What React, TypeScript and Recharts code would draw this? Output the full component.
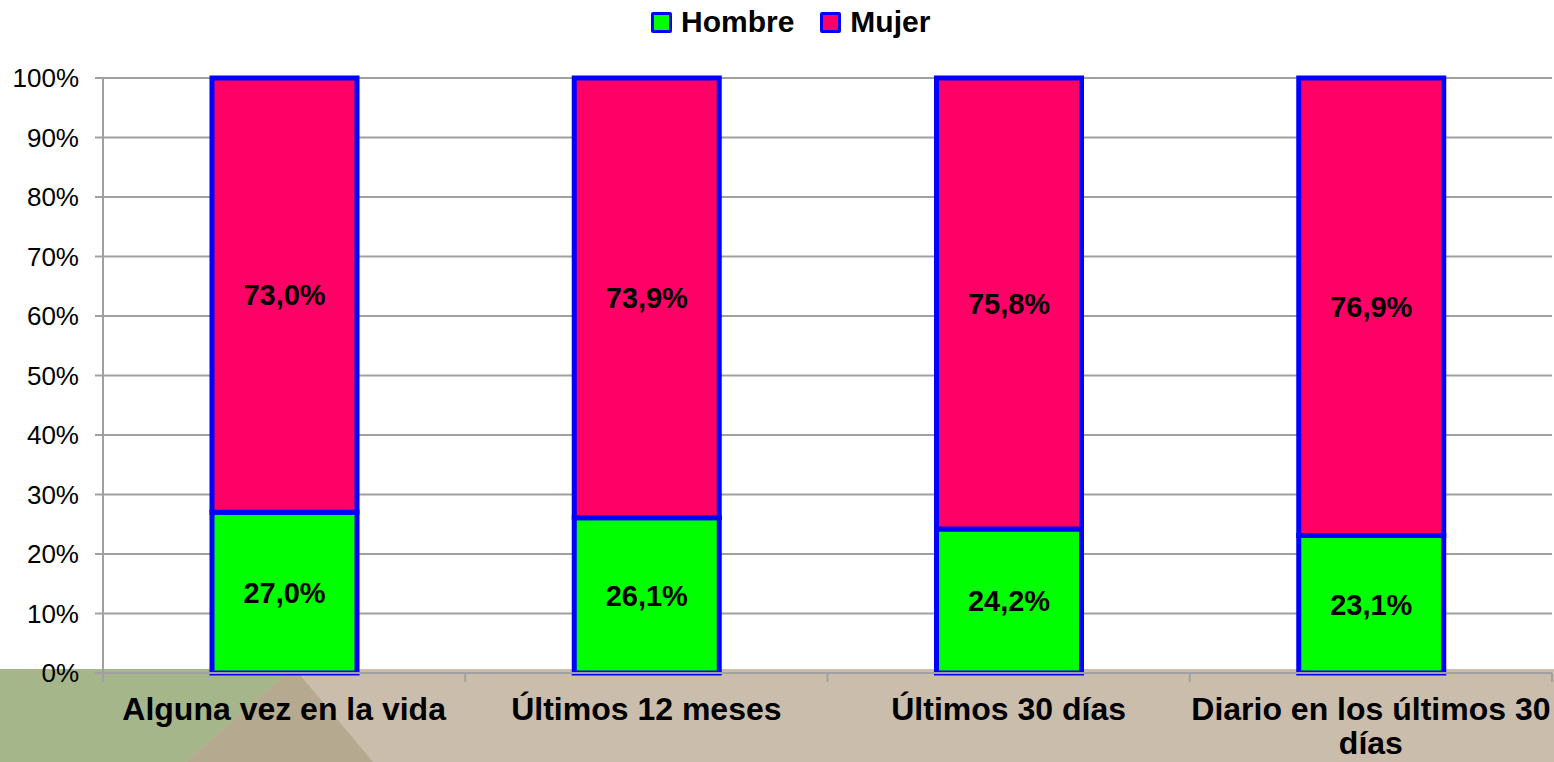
import React from 'react';
import { BarChart, Bar, XAxis, YAxis, CartesianGrid, Legend, LabelList } from 'recharts';

const categories = ['Alguna vez en la vida', 'Últimos 12 meses', 'Últimos 30 días', 'Diario en los últimos 30 días'];
const hombre = [27.0, 26.1, 24.2, 23.1];
const mujer = [73.0, 73.9, 75.8, 76.9];
const yTicks = [0, 10, 20, 30, 40, 50, 60, 70, 80, 90, 100];
const seriesNames = ['Hombre', 'Mujer'];
const seriesColors = ['#00ff00', '#ff0066'];

const data = categories.map((c, i) => ({ name: c, Hombre: hombre[i], Mujer: mujer[i] }));

const FONT = '"Liberation Sans", Arial, sans-serif';
const GRID = '#a0a0a0';
const BORDER = '#0000ff';
const CAT_SIZE = 32;

const fmt = (v: any) => `${Number(v).toFixed(1).replace('.', ',')}%`;

let ctx: CanvasRenderingContext2D | null = null;
const measure = (s: string) => {
  if (!ctx) {
    const c = document.createElement('canvas');
    ctx = c.getContext('2d');
  }
  if (!ctx) return s.length * CAT_SIZE * 0.55;
  ctx.font = `bold ${CAT_SIZE}px ${FONT}`;
  return ctx.measureText(s).width;
};

const wrap = (s: string, maxW: number) => {
  const words = s.split(' ');
  const lines: string[] = [];
  let cur = '';
  words.forEach((w) => {
    const t = cur ? `${cur} ${w}` : w;
    if (cur && measure(t) > maxW) {
      lines.push(cur);
      cur = w;
    } else {
      cur = t;
    }
  });
  if (cur) lines.push(cur);
  return lines;
};

const CategoryTick = (props: any) => {
  const { x, y, payload, width, visibleTicksCount, index } = props;
  const n = visibleTicksCount || categories.length;
  const band = payload && payload.offset ? payload.offset * 2 : width / n;
  const axisY = y - 8;
  const lines = wrap(String(payload.value), band + 4);
  return (
    <g>
      <line x1={x - band / 2} x2={x - band / 2} y1={axisY} y2={axisY + 9} stroke={GRID} strokeWidth={2} />
      {index === n - 1 && (
        <line x1={x + band / 2} x2={x + band / 2} y1={axisY} y2={axisY + 9} stroke={GRID} strokeWidth={2} />
      )}
      <text
        x={x}
        y={y + 39}
        textAnchor="middle"
        fill="#000"
        style={{ fontSize: CAT_SIZE, fontWeight: 'bold', fontFamily: FONT }}
      >
        {lines.map((l, i) => (
          <tspan key={i} x={x} dy={i === 0 ? 0 : 33.5}>
            {l}
          </tspan>
        ))}
      </text>
    </g>
  );
};

const renderLegend = () => (
  <div style={{ display: 'flex', alignItems: 'center', height: 30, fontFamily: FONT }}>
    {seriesNames.map((name, i) => (
      <div key={name} style={{ display: 'flex', alignItems: 'center', marginRight: i === 0 ? 26 : 0 }}>
        <span
          style={{
            display: 'inline-block',
            width: 15,
            height: 15,
            border: `3px solid ${BORDER}`,
            borderRadius: 2,
            background: seriesColors[i],
            marginRight: 9,
          }}
        />
        <span style={{ fontSize: 30, fontWeight: 'bold', lineHeight: '30px', color: '#000' }}>{name}</span>
      </div>
    ))}
  </div>
);

const Band = () => (
  <svg width={1554} height={762} style={{ position: 'absolute', left: 0, top: 0 }}>
    <rect x={0} y={669} width={1554} height={93} fill="#cabdac" />
    <polygon points="0,669 292,669 186,762 0,762" fill="#a6b68b" />
    <polygon points="292,669 295,669 373,762 186,762" fill="#b5aa8f" />
  </svg>
);

export default function App() {
  return (
    <div style={{ position: 'absolute', left: 0, top: 0, width: 1554, height: 762, background: '#fff' }}>
      <Band />
      <div style={{ position: 'absolute', left: 0, top: 0 }}>
        <BarChart width={1554} height={762} data={data} margin={{ top: 78, right: 2, bottom: 0, left: 0 }} barSize={145}>
          <CartesianGrid vertical={false} stroke={GRID} strokeWidth={2} />
          <XAxis
            dataKey="name"
            height={89}
            tickSize={8}
            tickMargin={0}
            tickLine={false}
            axisLine={{ stroke: GRID, strokeWidth: 2 }}
            tick={<CategoryTick />}
            interval={0}
          />
          <YAxis
            width={103}
            domain={[0, 100]}
            ticks={yTicks}
            tickFormatter={(v: number) => `${v}%`}
            tickSize={8}
            tickMargin={16}
            tickLine={{ stroke: GRID, strokeWidth: 2 }}
            axisLine={{ stroke: GRID, strokeWidth: 2 }}
            tick={{ fontSize: 26, fill: '#000', fontFamily: FONT }}
            interval={0}
          />
          <Legend
            content={renderLegend}
            layout="horizontal"
            verticalAlign="middle"
            align="center"
            wrapperStyle={{ top: 7, left: 651, width: 'auto' }}
          />
          <Bar dataKey="Hombre" name="Hombre" stackId="a" fill={seriesColors[0]} stroke={BORDER} strokeWidth={5} isAnimationActive={false}>
            <LabelList dataKey="Hombre" position="center" formatter={fmt} fill="#000" style={{ fontSize: 29, fontWeight: 'bold', fontFamily: FONT }} />
          </Bar>
          <Bar dataKey="Mujer" name="Mujer" stackId="a" fill={seriesColors[1]} stroke={BORDER} strokeWidth={5} isAnimationActive={false}>
            <LabelList dataKey="Mujer" position="center" formatter={fmt} fill="#000" style={{ fontSize: 29, fontWeight: 'bold', fontFamily: FONT }} />
          </Bar>
        </BarChart>
      </div>
    </div>
  );
}
